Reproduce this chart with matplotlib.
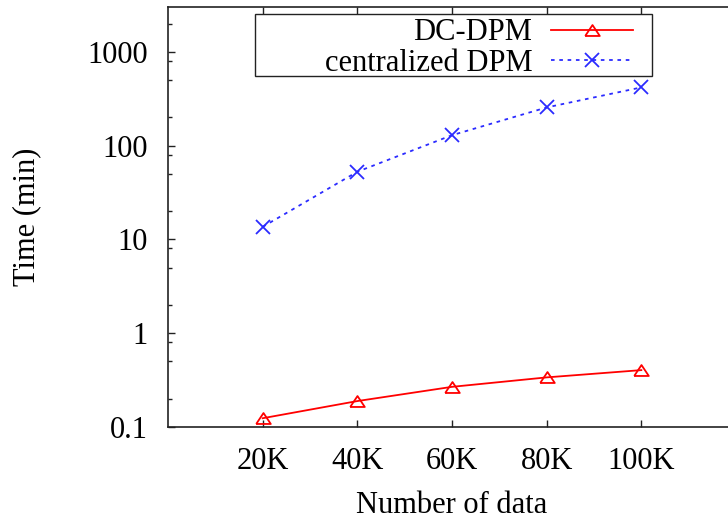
import matplotlib
matplotlib.use("Agg")
import matplotlib.pyplot as plt
from matplotlib.patches import Rectangle
from matplotlib.ticker import FixedLocator, NullFormatter

plt.rcParams["font.family"] = ["Liberation Serif", "DejaVu Serif"]

# running time (minutes) against data size (thousands of points)
sizes_k = [20, 40, 60, 80, 100]
size_labels = ["20K", "40K", "60K", "80K", "100K"]
dc_dpm = [0.124, 0.189, 0.268, 0.338, 0.404]
central_dpm = [13.6, 52.6, 129.0, 255.0, 417.0]

W, H = 728, 521
fig = plt.figure(figsize=(W / 100, H / 100), dpi=100)
ax = fig.add_axes([168 / W, 94 / H, 568 / W, 420 / H])

fs = 22
tri = [(-1, -0.75), (1, -0.75), (0, 0.75), (-1, -0.75)]

ax.plot(sizes_k, dc_dpm, color="#ff0000", lw=1.3, marker=tri, ms=10.5,
        mfc="none", mec="#ff0000", mew=1.3, label="DC-DPM")
ax.plot(sizes_k, central_dpm, color="#2b2bff", lw=1.3, ls=(0, (2, 2.6)),
        marker="x", ms=10, mew=1.3, label="centralized DPM")

ax.set_yscale("log")
ax.set_ylim(0.1, 3000)
ax.set_xlim(0, 120)

ax.set_xticks(sizes_k)
ax.set_xticklabels(size_labels)
ax.set_yticks([0.1, 1, 10, 100, 1000])
ax.set_yticklabels(["0.1", "1", "10", "100", "1000"])
ax.yaxis.set_minor_locator(FixedLocator([m * 10.0 ** e for e in range(-1, 4) for m in (2, 5, 8)]))
ax.yaxis.set_minor_formatter(NullFormatter())

ax.tick_params(axis="both", which="major", direction="in", length=5, width=1,
               labelsize=fs, top=True, right=True, color="#222222")
ax.tick_params(axis="y", which="major", pad=14.4)
ax.tick_params(axis="x", which="major", pad=14.5)
ax.tick_params(axis="y", which="minor", direction="in", length=3, width=1,
               right=True, color="#222222")

for sp in ax.spines.values():
    sp.set_linewidth(1.2)
    sp.set_color("#222222")

ax.set_xlabel("Number of data", fontsize=fs, labelpad=11)
ax.set_ylabel("Time (min)", fontsize=fs, labelpad=33)

# key box drawn separately so it can be wider than the entries
fig.patches.append(Rectangle((255 / W, (H - 76) / H), 397 / W, 62 / H,
                             transform=fig.transFigure, fill=False,
                             edgecolor="#222222", lw=1.0, zorder=5))
ax.legend(loc="upper right", bbox_to_anchor=(633 / W, (H - 18.5) / H),
          bbox_transform=fig.transFigure, frameon=False, markerfirst=False,
          fontsize=fs, borderpad=0, borderaxespad=0, handlelength=2.7,
          handletextpad=0.6, labelspacing=0.05)

fig.savefig("out.png", dpi=100)
